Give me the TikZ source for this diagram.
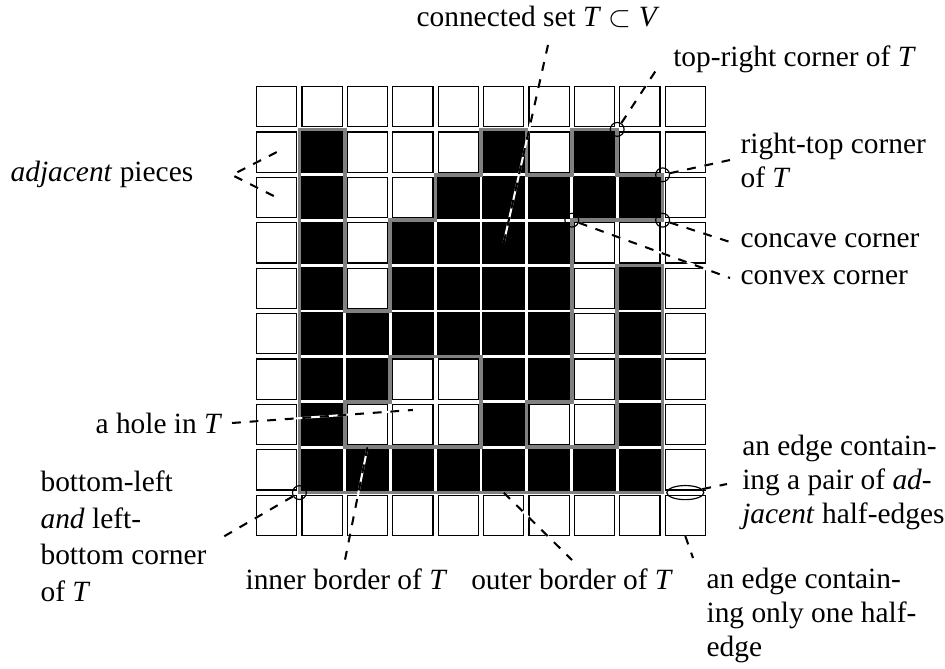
\documentclass[tikz,border=0pt]{standalone}
\usepackage{fontspec}
\setmainfont{Liberation Serif}
\usepackage{xcolor}
\usetikzlibrary{positioning, shapes.geometric}
\definecolor{bordergray}{RGB}{128, 128, 128}

\begin{document}
\begin{tikzpicture}[x=0.5427cm, y=0.5427cm,
          piece/.style={draw, thin, fill=white, minimum size=13.7pt, inner sep=0pt},
          cornermark/.style={circle, draw, minimum size=4.7pt, inner sep=0pt},
          hint/.style={dashed, line width=0.7pt, preaction={draw=white, solid, line width=0.7pt}},
          lbl/.style={inner sep=0pt, align=left, font=\fontsize{10}{11.6}\selectfont}]
  \useasboundingbox (-5.595,1.85) rectangle (15.22,-12.885);
  % the board: 10x10 pieces, T in black
  \foreach \c in {0,...,9}
    \foreach \r in {0,...,9}
      \node[piece] (p-\c-\r) at (\c+0.5,-\r-0.5) {};
  \foreach \r/\cols in {1/{1,5,7}, 2/{1,4,5,6,7,8}, 3/{1,3,4,5,6}, 4/{1,3,4,5,6,8},
                        5/{1,2,3,4,5,6,8}, 6/{1,2,5,6,8}, 7/{1,5,8}, 8/{1,2,3,4,5,6,7,8}}
    \foreach \c in \cols
      \filldraw[thin] (p-\c-\r.south west) rectangle (p-\c-\r.north east);
  % outer and inner border of T
  \draw[bordergray, line width=1.2pt] (1,-1) -- (2,-1) -- (2,-5) -- (3,-5) -- (3,-3) -- (4,-3)
    -- (4,-2) -- (5,-2) -- (5,-1) -- (6,-1) -- (6,-2) -- (7,-2) -- (7,-1) -- (8,-1) -- (8,-2)
    -- (9,-2) -- (9,-3) -- (7,-3) -- (7,-7) -- (6,-7) -- (6,-8) -- (8,-8) -- (8,-4) -- (9,-4)
    -- (9,-9) -- (1,-9) -- cycle;
  \draw[bordergray, line width=1.2pt] (2,-7) -- (3,-7) -- (3,-6) -- (5,-6) -- (5,-8) -- (2,-8) -- cycle;
  % corners
  \node[cornermark] (trc) at (8,-1) {};
  \node[cornermark] (rtc) at (9,-2) {};
  \node[cornermark] (ccv) at (9,-3) {};
  \node[cornermark] (cvx) at (7,-3) {};
  \node[cornermark] (blc) at (1,-9) {};
  \node[ellipse, draw, minimum width=12.6pt, minimum height=4.8pt, inner sep=0pt] (pair) at (9.5,-9) {};
  % labels (multi-line ones sit on their last baseline)
  \node[lbl, anchor=base west] (tset) at (3.568,1.256) {connected set \textit{T} $\subset$ \textit{V}};
  \node[lbl, anchor=base west] (trlbl) at (9.222,0.381) {top-right corner of \textit{T}};
  \node[lbl, anchor=base west] (rtlbl) at (10.705,-2.271) {right-top corner\\of \textit{T}};
  \node[lbl, anchor=base west] (cclbl) at (10.705,-3.612) {concave corner};
  \node[lbl, anchor=base west] (cvlbl) at (10.705,-4.427) {convex corner};
  \node[lbl, anchor=base west] (adjlbl) at (-5.374,-2.152) {\textit{adjacent} pieces};
  \node[lbl, anchor=base west] (holelbl) at (-3.502,-7.694) {a hole in \textit{T}};
  \node[lbl, anchor=base west, font=\fontsize{10}{12.5}\selectfont] (bllbl) at (-4.714,-11.403)
    {bottom-left\\\textit{and} left-\\bottom corner\\of \textit{T}};
  \node[lbl, anchor=base west] (inlbl) at (-0.198,-11.145) {inner border of \textit{T}};
  \node[lbl, anchor=base west] (outlbl) at (4.773,-11.145) {outer border of \textit{T}};
  \node[lbl, anchor=base west] (pairlbl) at (10.742,-9.676) {an edge contain-\\ing a pair of \textit{ad-}\\\textit{jacent} half-edges};
  \node[lbl, anchor=base west] (onelbl) at (9.956,-12.615) {an edge contain-\\ing only one half-\\edge};
  % ends of the pointers
  \coordinate (tset-end) at (6.5,0.97);
  \coordinate (tr-end) at (8.9,0.37);
  \coordinate (rt-end) at (10.485,-1.674);
  \coordinate (cc-end) at (10.485,-3.48);
  \coordinate (cv-end) at (10.485,-4.273);
  \coordinate (adj-end) at (-0.485,-2.004);
  \coordinate (hole-end) at (-0.485,-7.467);
  \coordinate (hole-tgt) at (3.5,-7.18);
  \coordinate (bl-end) at (-0.683,-9.978);
  \coordinate (in-tgt) at (2.5,-8);
  \coordinate (in-end) at (2.004,-10.485);
  \coordinate (out-tgt) at (5.5,-9);
  \coordinate (out-end) at (7.004,-10.485);
  \coordinate (pair-end) at (10.419,-8.811);
  \coordinate (one-end) at (9.67,-10.441);
  % pointers
  \draw[hint] (p-5-3.center) -- (tset-end);
  \draw[hint] (trc) -- (tr-end);
  \draw[hint] (rtc) -- (rt-end);
  \draw[hint] (ccv) -- (cc-end);
  \draw[hint] (cvx) -- (cv-end);
  \draw[hint] (p-0-1.center) -- (adj-end) -- (p-0-2.center);
  \draw[hint] (hole-end) -- (hole-tgt);
  \draw[hint] (blc) -- (bl-end);
  \draw[hint] (in-tgt) -- (in-end);
  \draw[hint] (out-tgt) -- (out-end);
  \draw[hint] (pair) -- (pair-end);
  \draw[hint] (p-9-9.south) -- (one-end);
\end{tikzpicture}
\end{document}
